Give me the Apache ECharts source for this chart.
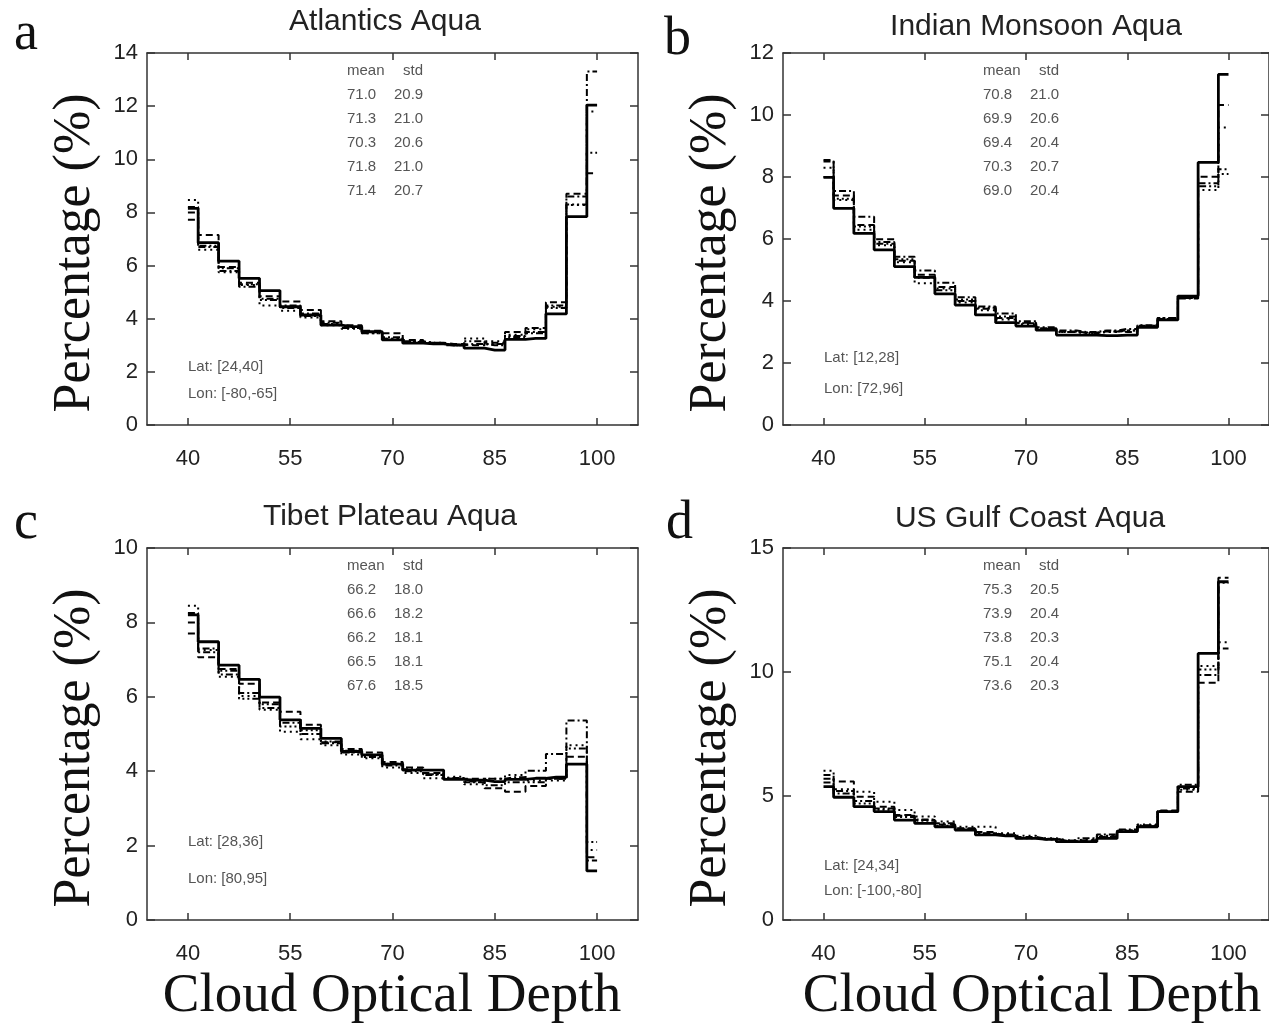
<!DOCTYPE html>
<html>
<head>
<meta charset="utf-8">
<title>Cloud Optical Depth histograms</title>
<script src="https://cdn.jsdelivr.net/npm/echarts@6/dist/echarts.min.js"></script>
<style>
html, body { margin: 0; padding: 0; background: #fff; }
#main { width: 1269px; height: 1029px; }
</style>
</head>
<body>
<div id="main"></div>
<script>
// bin centres (bins are 3 wide, outer bins clipped at 40 and 100)
var binCenters = [40, 43, 46, 49, 52, 55, 58, 61, 64, 67, 70, 73, 76, 79, 82, 85, 88, 91, 94, 97, 100];
var xTicks = [40, 55, 70, 85, 100];

// panel a - Atlantics Aqua
var atlSolid = [8.15, 6.86, 6.17, 5.52, 5.06, 4.45, 4.14, 3.76, 3.70, 3.51, 3.20, 3.08, 3.05, 3.01, 2.89, 2.82, 3.22, 3.26, 4.18, 7.84, 12.04];
var atlDot   = [8.47, 6.60, 5.75, 5.27, 4.50, 4.30, 4.05, 3.75, 3.62, 3.45, 3.25, 3.10, 3.05, 3.00, 3.26, 3.15, 3.40, 3.60, 4.45, 8.28, 11.80];
var atlDash  = [7.72, 7.15, 5.95, 5.35, 4.85, 4.65, 4.33, 3.90, 3.75, 3.55, 3.45, 3.20, 3.10, 3.05, 3.00, 3.10, 3.50, 3.65, 4.62, 8.70, 9.47];
var atlDDot  = [8.00, 6.70, 5.80, 5.20, 4.75, 4.40, 4.20, 3.85, 3.65, 3.50, 3.30, 3.15, 3.10, 3.00, 3.05, 3.00, 3.30, 3.50, 4.50, 8.60, 13.30];
var atlD3Dot = [8.20, 6.75, 5.90, 5.30, 4.70, 4.50, 4.10, 3.80, 3.65, 3.45, 3.25, 3.12, 3.05, 3.02, 3.15, 3.05, 3.35, 3.45, 4.40, 8.30, 10.25];
var atlMean = [71.0, 71.3, 70.3, 71.8, 71.4];
var atlStd  = [20.9, 21.0, 20.6, 21.0, 20.7];

// panel b - Indian Monsoon Aqua
var indSolid = [7.99, 6.99, 6.18, 5.65, 5.11, 4.76, 4.23, 3.87, 3.55, 3.30, 3.19, 3.06, 2.90, 2.90, 2.88, 2.90, 3.15, 3.39, 4.16, 8.47, 11.31];
var indDot   = [8.30, 7.26, 6.30, 5.80, 5.25, 4.57, 4.40, 3.95, 3.70, 3.40, 3.25, 3.10, 3.00, 2.95, 3.00, 3.05, 3.20, 3.45, 4.10, 7.58, 9.60];
var indDash  = [8.55, 7.40, 6.45, 5.99, 5.30, 4.85, 4.45, 4.00, 3.75, 3.45, 3.30, 3.12, 3.02, 2.98, 3.02, 3.00, 3.18, 3.42, 4.12, 8.01, 10.32];
var indDDot  = [8.50, 7.55, 6.72, 5.85, 5.43, 4.98, 4.59, 4.12, 3.82, 3.60, 3.35, 3.15, 3.05, 3.00, 3.05, 3.10, 3.22, 3.45, 4.08, 7.80, 8.25];
var indD3Dot = [8.00, 7.30, 6.40, 5.90, 5.35, 4.75, 4.35, 4.05, 3.78, 3.50, 3.28, 3.10, 3.00, 2.97, 3.02, 3.05, 3.20, 3.40, 4.10, 7.70, 8.10];
var indMean = [70.8, 69.9, 69.4, 70.3, 69.0];
var indStd  = [21.0, 20.6, 20.4, 20.7, 20.4];

// panel c - Tibet Plateau Aqua
var tibSolid = [8.20, 7.48, 6.85, 6.47, 5.99, 5.38, 5.15, 4.88, 4.53, 4.44, 4.19, 4.03, 4.03, 3.78, 3.76, 3.72, 3.78, 3.81, 3.84, 4.19, 1.32];
var tibDot   = [8.45, 7.26, 6.54, 6.02, 5.65, 5.06, 4.86, 4.70, 4.45, 4.35, 4.10, 3.95, 3.81, 3.85, 3.65, 3.80, 3.90, 3.75, 3.75, 4.70, 1.88];
var tibDash  = [7.70, 7.06, 6.75, 6.35, 5.85, 5.60, 5.25, 4.78, 4.60, 4.50, 4.25, 4.10, 3.95, 3.80, 3.80, 3.54, 3.45, 3.60, 3.80, 4.39, 1.69];
var tibDDot  = [8.00, 7.20, 6.60, 6.10, 5.70, 5.30, 5.00, 4.75, 4.50, 4.40, 4.20, 4.05, 3.90, 3.82, 3.70, 3.80, 3.84, 4.01, 4.46, 5.36, 2.10];
var tibD3Dot = [8.25, 7.30, 6.70, 5.95, 5.80, 5.20, 5.10, 4.80, 4.55, 4.38, 4.15, 4.00, 3.92, 3.80, 3.72, 3.62, 3.70, 3.70, 3.80, 4.61, 1.60];
var tibMean = [66.2, 66.6, 66.2, 66.5, 67.6];
var tibStd  = [18.0, 18.2, 18.1, 18.1, 18.5];

// panel d - US Gulf Coast Aqua
var usgSolid = [5.38, 4.95, 4.57, 4.37, 4.03, 3.90, 3.76, 3.63, 3.43, 3.39, 3.29, 3.25, 3.16, 3.16, 3.29, 3.56, 3.76, 4.37, 5.38, 10.75, 13.64];
var usgDot   = [6.02, 5.27, 5.17, 4.77, 4.44, 4.17, 3.97, 3.76, 3.76, 3.50, 3.40, 3.30, 3.22, 3.25, 3.40, 3.62, 3.85, 4.40, 5.25, 10.24, 11.20];
var usgDash  = [5.85, 5.58, 4.97, 4.57, 4.23, 4.03, 3.85, 3.70, 3.55, 3.45, 3.35, 3.28, 3.20, 3.22, 3.35, 3.60, 3.80, 4.42, 5.17, 9.57, 13.80];
var usgDDot  = [5.54, 5.10, 4.80, 4.50, 4.20, 4.05, 3.90, 3.68, 3.50, 3.42, 3.32, 3.27, 3.20, 3.30, 3.45, 3.65, 3.82, 4.35, 5.30, 9.88, 10.95];
var usgD3Dot = [5.70, 5.20, 4.70, 4.45, 4.15, 4.00, 3.80, 3.65, 3.48, 3.40, 3.30, 3.25, 3.18, 3.20, 3.38, 3.58, 3.78, 4.40, 5.45, 10.10, 13.60];
var usgMean = [75.3, 73.9, 73.8, 75.1, 73.6];
var usgStd  = [20.5, 20.4, 20.3, 20.4, 20.3];

var panels = [
    {letter: 'a', title: 'Atlantics Aqua', lat: 'Lat: [24,40]', lon: 'Lon: [-80,-65]',
     lines: [atlDot, atlDash, atlDDot, atlD3Dot, atlSolid], mean: atlMean, std: atlStd,
     left: 147, top: 53, ymax: 14, ystep: 2, titleX: 385, titleY: 22, latY: 367, lonY: 394, letterX: 14, letterY: 38},
    {letter: 'b', title: 'Indian Monsoon Aqua', lat: 'Lat: [12,28]', lon: 'Lon: [72,96]',
     lines: [indDot, indDash, indDDot, indD3Dot, indSolid], mean: indMean, std: indStd,
     left: 783, top: 53, ymax: 12, ystep: 2, titleX: 1036, titleY: 27, latY: 358, lonY: 389, letterX: 664, letterY: 43},
    {letter: 'c', title: 'Tibet Plateau Aqua', lat: 'Lat: [28,36]', lon: 'Lon: [80,95]',
     lines: [tibDot, tibDash, tibDDot, tibD3Dot, tibSolid], mean: tibMean, std: tibStd,
     left: 147, top: 548, ymax: 10, ystep: 2, titleX: 390, titleY: 517, latY: 842, lonY: 879, letterX: 14, letterY: 527},
    {letter: 'd', title: 'US Gulf Coast Aqua', lat: 'Lat: [24,34]', lon: 'Lon: [-100,-80]',
     lines: [usgDot, usgDash, usgDDot, usgD3Dot, usgSolid], mean: usgMean, std: usgStd,
     left: 783, top: 548, ymax: 15, ystep: 5, titleX: 1030, titleY: 519, latY: 866, lonY: 891, letterX: 666, letterY: 527}
];

var lineTypes = [[2, 4], [7, 4], [7, 3, 2, 3], [7, 3, 2, 3, 2, 3, 2, 3], 'solid'];
var lineWidths = [2, 2, 2, 2, 2.8];

var sans = 'Liberation Sans, Arial, sans-serif';
var serif = 'Liberation Serif, Times New Roman, serif';
var frame = {show: true, onZero: false, lineStyle: {color: '#333', width: 1.5}};
var tickStyle = {color: '#333', width: 1.5};
var smallFont = '15px ' + sans;

var grids = [], xAxes = [], yAxes = [], series = [], graphics = [];

panels.forEach(function (p, i) {
    grids.push({left: p.left, top: p.top, width: 491, height: 372});

    xAxes.push({
        gridIndex: i, type: 'value', min: 34, max: 106, position: 'bottom',
        axisLine: frame,
        axisTick: {inside: true, length: 7, customValues: xTicks, lineStyle: tickStyle},
        axisLabel: {customValues: xTicks, margin: 23, fontSize: 22, color: '#222', fontFamily: sans},
        splitLine: {show: false}
    });
    xAxes.push({
        gridIndex: i, type: 'value', min: 34, max: 106, position: 'top',
        axisLine: frame,
        axisTick: {inside: true, length: 7, customValues: xTicks, lineStyle: tickStyle},
        axisLabel: {show: false},
        splitLine: {show: false}
    });
    yAxes.push({
        gridIndex: i, type: 'value', min: 0, max: p.ymax, interval: p.ystep, position: 'left',
        axisLine: frame,
        axisTick: {inside: true, length: 8, lineStyle: tickStyle},
        axisLabel: {margin: 9, fontSize: 22, color: '#222', fontFamily: sans},
        splitLine: {show: false}
    });
    yAxes.push({
        gridIndex: i, type: 'value', min: 0, max: p.ymax, interval: p.ystep, position: 'right',
        axisLine: frame,
        axisTick: {inside: true, length: 8, lineStyle: tickStyle},
        axisLabel: {show: false},
        splitLine: {show: false}
    });

    p.lines.forEach(function (vals, j) {
        series.push({
            type: 'line', step: 'middle', symbol: 'none', silent: true,
            xAxisIndex: 2 * i, yAxisIndex: 2 * i,
            lineStyle: {color: '#000', width: lineWidths[j], type: lineTypes[j]},
            data: binCenters.map(function (x, k) { return [x, vals[k]]; })
        });
    });

    // panel letter + title
    graphics.push({type: 'text', left: p.letterX, top: p.letterY - 30,
        style: {text: p.letter, font: '54px ' + serif, fill: '#111'}});
    graphics.push({type: 'text', x: p.titleX, y: p.titleY,
        style: {text: p.title, font: '30px ' + sans, fill: '#222', align: 'center', verticalAlign: 'middle'}});

    // mean / std table
    var colX = p.left + 200;
    var rowTop = p.top + 18;
    graphics.push({type: 'text', x: colX, y: rowTop,
        style: {text: 'mean', font: smallFont, fill: '#555', verticalAlign: 'middle'}});
    graphics.push({type: 'text', x: colX + 56, y: rowTop,
        style: {text: 'std', font: smallFont, fill: '#555', verticalAlign: 'middle'}});
    p.mean.forEach(function (m, k) {
        var y = rowTop + 24 * (k + 1);
        graphics.push({type: 'text', x: colX, y: y,
            style: {text: m.toFixed(1), font: smallFont, fill: '#555', verticalAlign: 'middle'}});
        graphics.push({type: 'text', x: colX + 47, y: y,
            style: {text: p.std[k].toFixed(1), font: smallFont, fill: '#555', verticalAlign: 'middle'}});
    });

    graphics.push({type: 'text', x: p.left + 41, y: p.latY,
        style: {text: p.lat, font: smallFont, fill: '#555', verticalAlign: 'middle'}});
    graphics.push({type: 'text', x: p.left + 41, y: p.lonY,
        style: {text: p.lon, font: smallFont, fill: '#555', verticalAlign: 'middle'}});

    // y axis name
    graphics.push({type: 'text', x: p.left - 72, y: p.top + 200, rotation: Math.PI / 2,
        style: {text: 'Percentage (%)', font: '52px ' + serif, fill: '#111', align: 'center', verticalAlign: 'middle'}});
});

// x axis names under the bottom row
graphics.push({type: 'text', x: 392, y: 997,
    style: {text: 'Cloud Optical Depth', font: '55px ' + serif, fill: '#111', align: 'center', verticalAlign: 'middle'}});
graphics.push({type: 'text', x: 1032, y: 997,
    style: {text: 'Cloud Optical Depth', font: '55px ' + serif, fill: '#111', align: 'center', verticalAlign: 'middle'}});

var chart = echarts.init(document.getElementById('main'));
chart.setOption({
    backgroundColor: '#fff',
    animation: false,
    grid: grids,
    xAxis: xAxes,
    yAxis: yAxes,
    series: series,
    graphic: graphics
});
</script>
</body>
</html>
